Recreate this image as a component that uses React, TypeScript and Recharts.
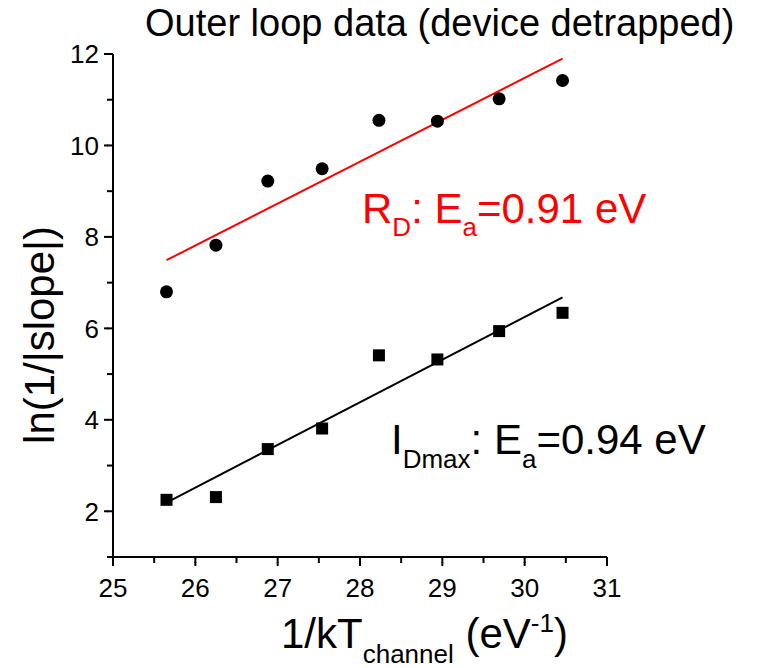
import { ComposedChart, Scatter, Line, XAxis, YAxis, Customized } from 'recharts'

const FONT = '"Liberation Sans", Arial, sans-serif'

// 1/kT_channel values (eV^-1), same for both series
const xValues = [25.65, 26.25, 26.88, 27.54, 28.23, 28.94, 29.69, 30.46]
// R_D: ln(1/|slope|)
const rdValues = [6.8, 7.82, 9.22, 9.49, 10.55, 10.53, 11.02, 11.42]
// I_Dmax: ln(1/|slope|)
const idmaxValues = [2.25, 2.31, 3.36, 3.81, 5.41, 5.32, 5.94, 6.34]

// linear fits (end points)
const fitX = [25.65, 30.46]
const rdFit = [7.49, 11.9]
const idmaxFit = [2.19, 6.68]

const xTicks = [25, 25.5, 26, 26.5, 27, 27.5, 28, 28.5, 29, 29.5, 30, 30.5, 31]
const yTicks = [1, 2, 3, 4, 5, 6, 7, 8, 9, 10, 11, 12]

const rdData = xValues.map((x, i) => ({ x, y: rdValues[i] }))
const idmaxData = xValues.map((x, i) => ({ x, y: idmaxValues[i] }))
const rdFitData = fitX.map((x, i) => ({ x, y: rdFit[i] }))
const idmaxFitData = fitX.map((x, i) => ({ x, y: idmaxFit[i] }))

// tick props arrive at axis + 6 (tickSize); minor ticks come from tickLine,
// major ones get extended a little
function XTick({ x, y, payload }: any) {
  const major = Number.isInteger(payload.value)
  if (!major) return <g />
  return (
    <g>
      <line x1={x} x2={x} y1={y - 1} y2={y + 3} stroke="#000" strokeWidth={2} />
      <text x={x} y={y + 34} textAnchor="middle" fontSize={26} fontFamily={FONT} fill="#000">
        {payload.value}
      </text>
    </g>
  )
}

function YTick({ x, y, payload }: any) {
  const major = payload.value % 2 === 0
  if (!major) return <g />
  return (
    <g>
      <line x1={x + 1} x2={x - 3} y1={y} y2={y} stroke="#000" strokeWidth={2} />
      <text x={x - 8} y={y + 9.3} textAnchor="end" fontSize={26} fontFamily={FONT} fill="#000">
        {payload.value}
      </text>
    </g>
  )
}

const Circle = (props: any) => <circle cx={props.cx} cy={props.cy} r={6.5} fill="#000" />
const Square = (props: any) => <rect x={props.cx - 6} y={props.cy - 6} width={12} height={12} fill="#000" />

function Annotations() {
  return (
    <g fontFamily={FONT}>
      <text x={145} y={36} fontSize={38} fill="#000">
        Outer loop data (device detrapped)
      </text>
      <text x={54} y={335} fontSize={42} fill="#000" textAnchor="middle" transform="rotate(-90 54 335)">
        ln(1/|slope|)
      </text>
      <text x={281} y={648} fontSize={42} fill="#000">
        1/kT<tspan fontSize={26} dy={15}>channel</tspan>
        <tspan dy={-15}> (eV</tspan>
        <tspan fontSize={26} dy={-16}>-1</tspan>
        <tspan dy={16}>)</tspan>
      </text>
      <text x={362} y={223} fontSize={42} fill="#ff0000">
        R<tspan fontSize={26} dy={13}>D</tspan>
        <tspan dy={-13}>: E</tspan>
        <tspan fontSize={26} dy={13}>a</tspan>
        <tspan dy={-13}>=0.91 eV</tspan>
      </text>
      <text x={391} y={454} fontSize={42} fill="#000">
        I<tspan fontSize={26} dy={14}>Dmax</tspan>
        <tspan dy={-14}>: E</tspan>
        <tspan fontSize={26} dy={14}>a</tspan>
        <tspan dy={-14}>=0.94 eV</tspan>
      </text>
    </g>
  )
}

export default function App() {
  return (
    <div style={{ position: 'absolute', left: 0, top: 0, width: 763, height: 668, background: '#fff' }}>
      <ComposedChart width={763} height={668} margin={{ top: 54, right: 156, bottom: 71, left: 53 }}>
        <XAxis
          dataKey="x"
          type="number"
          domain={[25, 31]}
          ticks={xTicks}
          interval={0}
          height={40}
          tickSize={6}
          tickMargin={0}
          tickLine={{ stroke: '#000', strokeWidth: 2 }}
          tick={<XTick />}
          axisLine={{ stroke: '#000', strokeWidth: 2 }}
          allowDataOverflow
        />
        <YAxis
          dataKey="y"
          type="number"
          domain={[1, 12]}
          ticks={yTicks}
          interval={0}
          width={60}
          tickSize={6}
          tickMargin={0}
          tickLine={{ stroke: '#000', strokeWidth: 2 }}
          tick={<YTick />}
          axisLine={{ stroke: '#000', strokeWidth: 2 }}
          allowDataOverflow
        />
        <Line data={rdFitData} dataKey="y" type="linear" stroke="#ff0000" strokeWidth={2} dot={false} isAnimationActive={false} />
        <Line data={idmaxFitData} dataKey="y" type="linear" stroke="#000" strokeWidth={2} dot={false} isAnimationActive={false} />
        <Scatter data={rdData} dataKey="y" shape={Circle} isAnimationActive={false} />
        <Scatter data={idmaxData} dataKey="y" shape={Square} isAnimationActive={false} />
        <Customized component={Annotations} />
      </ComposedChart>
    </div>
  )
}
